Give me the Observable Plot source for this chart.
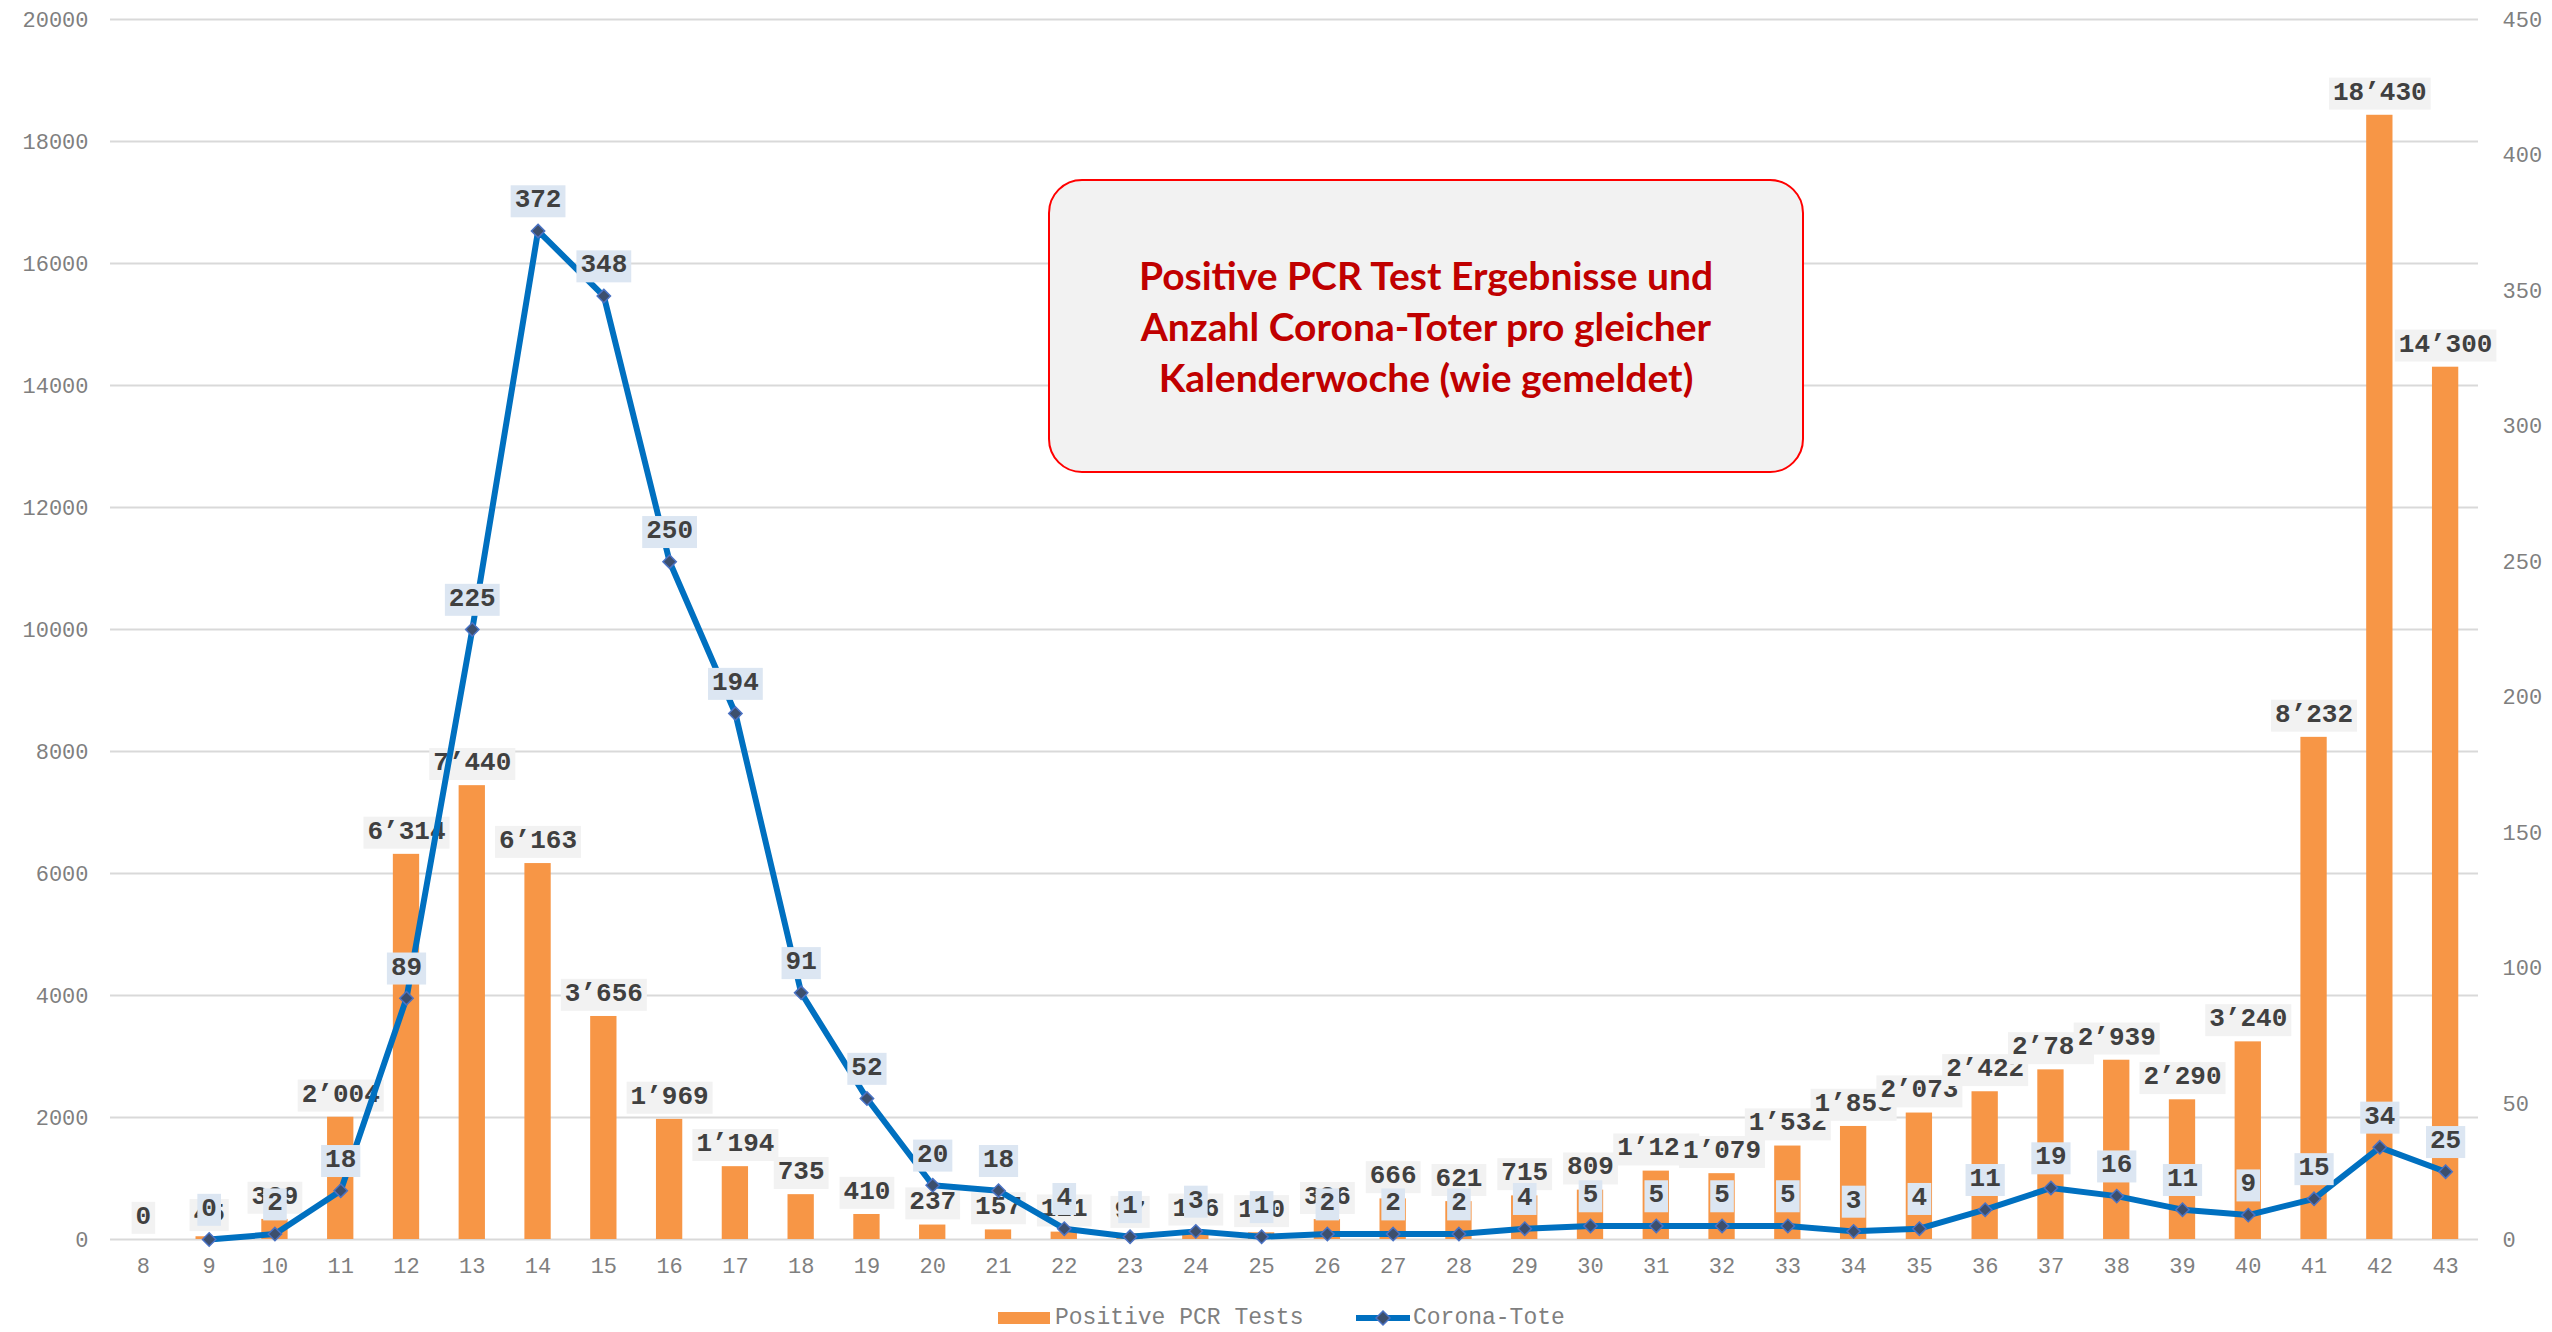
<!DOCTYPE html>
<html><head><meta charset="utf-8">
<script src="https://cdn.jsdelivr.net/npm/d3@7"></script>
<script src="https://cdn.jsdelivr.net/npm/@observablehq/plot@0.6"></script>
<style>
body{margin:0;background:#fff;width:2552px;height:1332px;overflow:hidden;position:relative}
#chart{position:absolute;left:0;top:0}
#title{position:absolute;left:1048px;top:179px;width:752px;height:290px;border:2.5px solid #ff0000;border-radius:34px;background:#f2f2f2;display:flex;align-items:center;justify-content:center;text-align:center;font-family:Lato,"Open Sans",sans-serif;font-weight:bold;font-size:39px;line-height:51px;color:#c00000}
.leg{position:absolute;font-family:"Liberation Mono",monospace;font-size:23px;color:#7f7f7f;line-height:24px}
</style></head>
<body>
<div id="chart"></div>
<div id="title"><div>Positive PCR Test Ergebnisse und<br>Anzahl Corona-Toter pro gleicher<br>Kalenderwoche (wie gemeldet)</div></div>
<div class="leg" style="left:998px;top:1312px;width:52px;height:12px;background:#f79646"></div>
<div class="leg" style="left:1055px;top:1306px">Positive PCR Tests</div>
<svg class="leg" style="left:1354px;top:1306px" width="58" height="24"><line x1="2" y1="12" x2="56" y2="12" stroke="#0070c0" stroke-width="6"/><path d="M29,5L36,12L29,19L22,12Z" fill="#3d4f6d" stroke="#4a72c4" stroke-width="1.5"/></svg>
<div class="leg" style="left:1413px;top:1306px">Corona-Tote</div>
<script>
const weeks = ["8","9","10","11","12","13","14","15","16","17","18","19","20","21","22","23","24","25","26","27","28","29","30","31","32","33","34","35","36","37","38","39","40","41","42","43"];
const positivePCR = [0,45,329,2004,6314,7440,6163,3656,1969,1194,735,410,237,157,121,97,136,110,326,666,621,715,809,1121,1079,1532,1853,2073,2422,2781,2939,2290,3240,8232,18430,14300];
const coronaTote = [null,0,2,18,89,225,372,348,250,194,91,52,20,18,4,1,3,1,2,2,2,4,5,5,5,5,3,4,11,19,16,11,9,15,34,25];
const leftTicks = [0,2000,4000,6000,8000,10000,12000,14000,16000,18000,20000];
const rightTicks = [0,50,100,150,200,250,300,350,400,450];
const leftMax = 20000, rightMax = 450;
const k = leftMax / rightMax;

const data = weeks.map((w,i)=>({week:w, pcr:positivePCR[i], tote:coronaTote[i]}));
const toteData = data.filter(d=>d.tote!=null);
const fmt = v => d3.format(",")(v).replace(/,/g,"\u2019");

const svg = Plot.plot({
  width:2552, height:1295,
  marginLeft:110, marginRight:74, marginTop:19, marginBottom:56,
  style:{fontFamily:"Liberation Mono", fontSize:"22px", color:"#7f7f7f", background:"transparent", overflow:"visible"},
  x:{type:"band", domain:weeks, paddingInner:0.6, paddingOuter:0.3, round:false},
  y:{domain:[0,leftMax]},
  marks:[
    Plot.gridY(leftTicks, {stroke:"#d9d9d9", strokeOpacity:1, strokeWidth:2}),
    Plot.axisY({ticks:leftTicks, tickSize:0, tickPadding:22, tickFormat:d=>String(d), label:null, fontSize:22, color:"#7f7f7f"}),
    Plot.axisY({anchor:"right", ticks:rightTicks.map(v=>v*k), tickSize:0, tickPadding:24, tickFormat:d=>String(Math.round(d/k)), label:null, fontSize:22, color:"#7f7f7f"}),
    Plot.axisX({tickSize:0, tickPadding:18, label:null, fontSize:22, color:"#7f7f7f"}),
    Plot.barY(data, {x:"week", y:"pcr", fill:"#f79646"}),
    Plot.text(data, {x:"week", y:"pcr", text:d=>fmt(d.pcr), dy:-24, fontFamily:"Liberation Mono", fontWeight:"bold", fontSize:26, fill:"#404040"}),
    Plot.line(toteData, {x:"week", y:d=>d.tote*k, stroke:"#0070c0", strokeWidth:6, strokeLinejoin:"round"}),
    Plot.dot(toteData, {x:"week", y:d=>d.tote*k, symbol:"diamond2", r:6, fill:"#3d4f6d", stroke:"#4a72c4", strokeWidth:1.5}),
    Plot.text(toteData, {x:"week", y:d=>d.tote*k, text:d=>fmt(d.tote), dy:-32, fontFamily:"Liberation Mono", fontWeight:"bold", fontSize:26, fill:"#404040"})
  ]
});
document.getElementById("chart").append(svg);

const groups = svg.querySelectorAll('g[aria-label="text"]');
const bgColors = ["#f2f2f2", "#dce6f2"];
groups.forEach((g,gi)=>{
  g.querySelectorAll("text").forEach(t=>{
    const b = t.getBBox();
    const r = document.createElementNS("http://www.w3.org/2000/svg","rect");
    r.setAttribute("x", b.x-4);
    r.setAttribute("y", b.y);
    r.setAttribute("width", b.width+8);
    r.setAttribute("height", b.height+2);
    r.setAttribute("fill", bgColors[gi] || "#f2f2f2");
    if (t.getAttribute("transform")) r.setAttribute("transform", t.getAttribute("transform"));
    t.parentNode.insertBefore(r, t);
  });
});
</script>
</body></html>
